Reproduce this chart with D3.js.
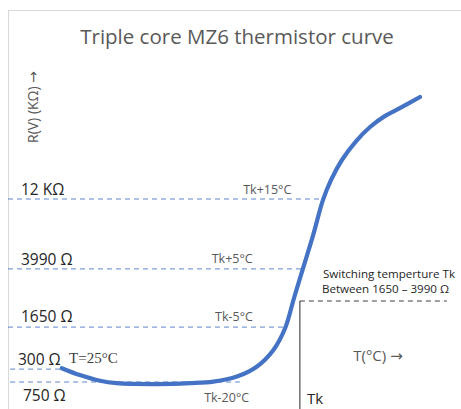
<!DOCTYPE html>
<html lang="en">
<head>
<meta charset="UTF-8">
<title>Triple core MZ6 thermistor curve</title>
<script src="https://d3js.org/d3.v7.min.js"></script>
<style>
    body { margin: 0; padding: 0; background: #fff; }
    svg { display: block; font-family: "Open Sans", "Noto Sans", sans-serif; }
    .title { font-size: 20.5px; fill: #595959; text-anchor: middle; }
    .axisLabel { font-size: 14px; fill: #595959; text-anchor: middle; }
    .levelLabel { font-size: 15.5px; fill: #262626; }
    .tkLabel { font-size: 12.5px; fill: #595959; }
    .note { font-size: 11.6px; fill: #262626; }
    .arrow { font-family: "DejaVu Sans", sans-serif; }
    .curve { fill: none; stroke: #4472c4; stroke-width: 4.2px; stroke-linecap: round; }
    .level { stroke: #4472c4; stroke-width: 1px; stroke-dasharray: 5, 4; opacity: 0.85; }
</style>
</head>
<body>
<div id="canvas"></div>
<script>
    // curve (relative temperature / resistance units)
    var curveX = [12.8, 17.1, 21.9, 25.9, 35.4, 43.3, 48.9, 54.5, 59.2, 63.2, 66.0, 68.1,
                  70.2, 72.6, 75.0, 76.9, 79.5, 82.9, 86.2, 89.8, 93.3, 98.1];
    var curveY = [10.6, 8.3, 6.4, 5.6, 5.3, 5.6, 6.1, 7.8, 11.1, 16.7, 24, 34,
                  43.7, 54.7, 66.7, 73.3, 80, 86.3, 91, 94.7, 97.3, 101];

    // resistance levels: label, height, where the dashed line ends
    var levelNames = ["12 KΩ", "3990 Ω", "1650 Ω", "300 Ω", "750 Ω"];
    var levelY = [67, 43.7, 24.3, 10.3, 6];
    var levelEnd = [74.8, 70.2, 66.0, 12.4, 55.2];

    // temperature marks next to the levels
    var tkNames = ["Tk+15°C", "Tk+5°C", "Tk-5°C", "Tk-20°C"];
    var tkX = [56, 48.5, 49.3, 46.7];
    var tkLevel = [0, 1, 2, 4];

    // switching temperature corner
    var tkPoint = {x: 69.5, y: 33, xEnd: 104.5};

    var width = 461, height = 409;

    var svg = d3.select("#canvas")
        .append("svg")
        .attr("width", width)
        .attr("height", height);

    var x = d3.scaleLinear().domain([0, 100]).range([8, 428]);
    var y = d3.scaleLinear().domain([0, 100]).range([400, 100]);

    // chart border
    svg.append("rect")
        .attr("x", 8.5)
        .attr("y", 10.5)
        .attr("width", 470)
        .attr("height", 420)
        .style("fill", "none")
        .style("stroke", "#d9d9d9");

    svg.append("text")
        .attr("class", "title")
        .attr("x", 237)
        .attr("y", 44)
        .text("Triple core MZ6 thermistor curve");

    var yLabel = svg.append("text")
        .attr("class", "axisLabel")
        .attr("transform", "translate(38,107) rotate(-90)");
    yLabel.append("tspan").text("R(V) (KΩ) ");
    yLabel.append("tspan").attr("class", "arrow").text("→");

    // dashed resistance levels
    svg.selectAll("line.level")
        .data(levelNames)
        .enter()
        .append("line")
        .attr("class", "level")
        .attr("x1", function(d, i) { return i >= 3 ? x(0.5) : x(0); })
        .attr("x2", function(d, i) { return x(levelEnd[i]); })
        .attr("y1", function(d, i) { return y(levelY[i]); })
        .attr("y2", function(d, i) { return y(levelY[i]); });

    var labelDx = [13, 13, 13, 10, 15];
    var labelDy = [-4, -4, -5, -4, 19];
    svg.selectAll("text.levelLabel")
        .data(levelNames)
        .enter()
        .append("text")
        .attr("class", "levelLabel")
        .attr("x", function(d, i) { return x(0) + labelDx[i]; })
        .attr("y", function(d, i) { return y(levelY[i]) + labelDy[i]; })
        .text(function(d) { return d; });

    var tkDy = [-5, -6, -6, 20];
    svg.selectAll("text.tkLabel")
        .data(tkNames)
        .enter()
        .append("text")
        .attr("class", "tkLabel")
        .attr("x", function(d, i) { return x(tkX[i]); })
        .attr("y", function(d, i) { return y(levelY[tkLevel[i]]) + tkDy[i]; })
        .text(function(d) { return d; });

    svg.append("text")
        .attr("x", x(levelEnd[3]) + 9)
        .attr("y", y(levelY[3]) - 6)
        .style("font-family", "'Liberation Serif', 'DejaVu Serif', serif")
        .style("font-size", "15px")
        .style("fill", "#404040")
        .text("T=25°C");

    // the curve
    var points = curveX.map(function(v, i) { return [v, curveY[i]]; });
    var line = d3.line()
        .x(function(d) { return x(d[0]); })
        .y(function(d) { return y(d[1]); })
        .curve(d3.curveCatmullRom.alpha(0.5));

    // switching temperature box
    svg.append("line")
        .attr("x1", x(tkPoint.x))
        .attr("x2", x(tkPoint.xEnd))
        .attr("y1", y(tkPoint.y))
        .attr("y2", y(tkPoint.y))
        .style("stroke", "#404040")
        .style("stroke-dasharray", "5, 4");

    svg.append("line")
        .attr("x1", x(tkPoint.x))
        .attr("x2", x(tkPoint.x))
        .attr("y1", y(tkPoint.y))
        .attr("y2", height)
        .style("stroke", "#262626");

    svg.append("path")
        .datum(points)
        .attr("class", "curve")
        .attr("d", line);

    svg.append("text")
        .attr("class", "note")
        .attr("x", x(tkPoint.x) + 23)
        .attr("y", y(tkPoint.y) - 23.5)
        .text("Switching temperture Tk");

    svg.append("text")
        .attr("class", "note")
        .attr("x", x(tkPoint.x) + 22)
        .attr("y", y(tkPoint.y) - 8)
        .text("Between 1650 – 3990 Ω");

    var tLabel = svg.append("text")
        .attr("x", 378)
        .attr("y", 361)
        .style("font-size", "15px")
        .style("fill", "#595959")
        .style("text-anchor", "middle");
    tLabel.append("tspan").text("T(°C) ");
    tLabel.append("tspan").attr("class", "arrow").text("→");

    svg.append("text")
        .attr("x", x(tkPoint.x) + 7)
        .attr("y", 404)
        .style("font-size", "15px")
        .style("fill", "#262626")
        .text("Tk");
</script>
</body>
</html>
